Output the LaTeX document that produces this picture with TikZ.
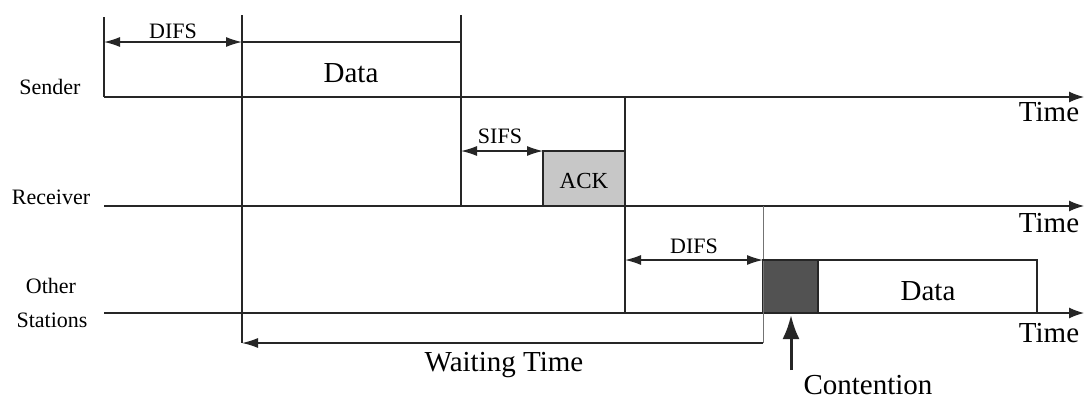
\documentclass[tikz,border=0pt]{standalone}
\usepackage{fontspec}
\setmainfont{Liberation Serif}
\usetikzlibrary{arrows.meta}
\begin{document}
\begin{tikzpicture}[x=1pt,y=-1pt,
  line/.style={line width=1.3pt,black!85},
  thin line/.style={line width=0.9pt,black!55},
  axis/.style={line/.try,-{Latex[length=15pt,width=11pt]}},
  span/.style={line width=1.3pt,black!85,{Latex[length=16pt,width=10pt]}-{Latex[length=16pt,width=10pt]}},
  small/.style={font=\fontsize{22}{24}\selectfont},
  big/.style={font=\fontsize{29}{31}\selectfont},
  lbl/.style={inner sep=0pt,anchor=center}]
\useasboundingbox (0,0) rectangle (1086,399);
\fill[white] (0,0) rectangle (1086,399);

% time axes
\coordinate (s0) at (104,97);   \coordinate (s1) at (1084,97);
\coordinate (r0) at (104,206);  \coordinate (r1) at (1084,206);
\coordinate (o0) at (104,313);  \coordinate (o1) at (1084,313);

% event instants
\coordinate (sTop) at (104,17);
\coordinate (dTop) at (242,15);
\coordinate (dL) at (242,42);
\coordinate (sL) at (104,42);
\coordinate (dEndTop) at (461,15);
\coordinate (dR) at (461,42);
\coordinate (dEndR) at (461,206);
\coordinate (ackL) at (543,151);
\coordinate (sifsL) at (461,151);
\coordinate (ackR) at (625,206);
\coordinate (ackTop) at (625,97);
\coordinate (ackBot) at (625,313);
\coordinate (difs2L) at (625,260);
\coordinate (cStartTop) at (763,206);
\coordinate (cStart) at (763,260);
\coordinate (wR) at (763,343);
\coordinate (wL) at (242,343);
\coordinate (cEnd) at (818,313);
\coordinate (d2R) at (1037,260);
\coordinate (d2Rb) at (1037,313);
\coordinate (contBot) at (791,370);
\coordinate (contTip) at (791,315);

% boxes
\fill[black!22] (ackL) rectangle (ackR);
\fill[black!68] (cStart) rectangle (cEnd);
\draw[line] (ackL) rectangle (ackR);
\draw[line] (cStart) rectangle (cEnd);

% axes
\draw[axis] (s0) -- (s1);
\draw[axis] (r0) -- (r1);
\draw[axis] (o0) -- (o1);

% sender frame and data frame
\draw[line] (sTop) -- (s0);
\draw[line] (dTop) -- (wL);
\draw[line] (dEndTop) -- (dEndR);
\draw[line] (dL) -- (dR);
\draw[span] (sL) -- (dL);

% ack
\draw[span] (sifsL) -- (ackL);
\draw[line] (ackTop) -- (ackBot);

% other stations
\draw[thin line] (cStartTop) -- (wR);
\draw[span] (difs2L) -- (cStart);
\draw[line] (cStart) -- (d2R) -- (d2Rb);
\draw[line,-{Latex[length=16pt,width=10pt]}] (wR) -- (wL);
\draw[line width=3pt,black!85,-{Latex[length=24pt,width=17pt]}] (contBot) -- (contTip);

% labels
\node[lbl,small] (lSender) at (50,87) {Sender};
\node[lbl,small] (lReceiver) at (51,197) {Receiver};
\node[lbl,small] (lOther) at (51,286) {Other};
\node[lbl,small] (lStations) at (52,320) {Stations};
\node[lbl,small] (lDifs1) at (173,31) {DIFS};
\node[lbl,small] (lSifs) at (500,136) {SIFS};
\node[lbl,small] (lDifs2) at (694,246) {DIFS};
\node[lbl,font=\fontsize{23}{25}\selectfont] (lAck) at (584,181) {ACK};
\node[lbl,big] (lData1) at (351,73) {Data};
\node[lbl,big] (lData2) at (928,291) {Data};
\node[lbl,big] (lTime1) at (1049,112) {Time};
\node[lbl,big] (lTime2) at (1049,223) {Time};
\node[lbl,big] (lTime3) at (1049,333) {Time};
\node[lbl,big] (lWait) at (504,365) {Waiting Time};
\node[lbl,big] (lCont) at (868,385) {Contention};
\end{tikzpicture}
\end{document}
